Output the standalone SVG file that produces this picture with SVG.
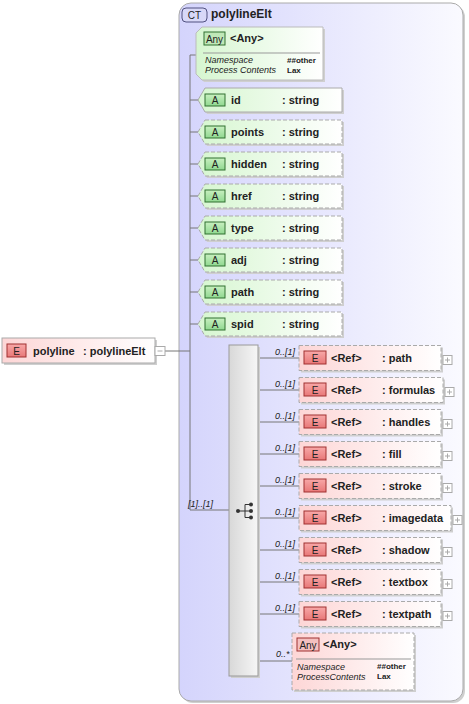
<svg xmlns="http://www.w3.org/2000/svg" width="469" height="704" viewBox="0 0 469 704">
<defs>
<linearGradient id="gCT" x1="0" y1="0" x2="1" y2="0"><stop offset="0" stop-color="#d4d4fc"/><stop offset="1" stop-color="#fafaff"/></linearGradient>
<linearGradient id="gA" x1="0" y1="0" x2="1" y2="0"><stop offset="0" stop-color="#d6f6d0"/><stop offset="1" stop-color="#ffffff"/></linearGradient>
<linearGradient id="gE" x1="0" y1="0" x2="1" y2="0"><stop offset="0" stop-color="#fdd6d6"/><stop offset="1" stop-color="#ffffff"/></linearGradient>
<linearGradient id="gEb" x1="0" y1="0" x2="0" y2="1"><stop offset="0" stop-color="#f8a8a8"/><stop offset="1" stop-color="#e87878"/></linearGradient>
<linearGradient id="gAb" x1="0" y1="0" x2="0" y2="1"><stop offset="0" stop-color="#c8f0c0"/><stop offset="1" stop-color="#90d890"/></linearGradient>
<linearGradient id="gSeq" x1="0" y1="0" x2="1" y2="0"><stop offset="0" stop-color="#d8d8d8"/><stop offset="1" stop-color="#f6f6f6"/></linearGradient>
</defs>
<style>
text{font-family:"Liberation Sans",Arial,sans-serif;fill:#222}
.b{font-weight:bold;font-size:11px}
.h{font-weight:bold;font-size:12px}
.occ{font-style:italic;font-size:9px}
.it{font-style:italic;font-size:9px}
.sm{font-weight:bold;font-size:8px}
.ln{stroke:#777;stroke-width:1;fill:none}
.sh{fill:#cfcfcf}
.attr{fill:url(#gA);stroke:#aaa;stroke-dasharray:4,2}
.attrs{fill:url(#gA);stroke:#aaa}
.el{fill:url(#gE);stroke:#aaa;stroke-dasharray:4,2}
.els{fill:url(#gE);stroke:#aaa}
.eb{fill:url(#gEb);stroke:#a03030}
.ab{fill:url(#gAb);stroke:#307030}
.pm{fill:#fff;stroke:#aaa}
.pml{stroke:#aaa}
</style>

<g id="ct">
<rect x="181" y="5" width="284" height="698" rx="12" class="sh"/>
<rect x="179" y="3" width="284" height="698" rx="12" fill="url(#gCT)" stroke="#aaa"/>
<rect x="182" y="8" width="25" height="14" rx="4" fill="#d8d8f8" stroke="#505080"/>
<text x="194.5" y="19" font-size="10" text-anchor="middle">CT</text>
<text x="211" y="18" class="h">polylineElt</text>
</g>

<g id="connectors">
<line x1="165" y1="351" x2="190" y2="351" class="ln"/>
<line x1="190" y1="55" x2="190" y2="510" class="ln"/>
<line x1="190" y1="55" x2="197" y2="55" class="ln"/>
<line x1="190" y1="100" x2="198" y2="100" class="ln"/>
<line x1="190" y1="132" x2="198" y2="132" class="ln"/>
<line x1="190" y1="164" x2="198" y2="164" class="ln"/>
<line x1="190" y1="196" x2="198" y2="196" class="ln"/>
<line x1="190" y1="228" x2="198" y2="228" class="ln"/>
<line x1="190" y1="260" x2="198" y2="260" class="ln"/>
<line x1="190" y1="292" x2="198" y2="292" class="ln"/>
<line x1="190" y1="324" x2="198" y2="324" class="ln"/>
<line x1="190" y1="510" x2="229" y2="510" class="ln"/>
<text x="188" y="507" class="occ">[1]..[1]</text>
<line x1="258" y1="358" x2="299" y2="358" class="ln"/>
<line x1="258" y1="390" x2="299" y2="390" class="ln"/>
<line x1="258" y1="422" x2="299" y2="422" class="ln"/>
<line x1="258" y1="454" x2="299" y2="454" class="ln"/>
<line x1="258" y1="486" x2="299" y2="486" class="ln"/>
<line x1="258" y1="518" x2="299" y2="518" class="ln"/>
<line x1="258" y1="550" x2="299" y2="550" class="ln"/>
<line x1="258" y1="582" x2="299" y2="582" class="ln"/>
<line x1="258" y1="614" x2="299" y2="614" class="ln"/>
<line x1="258" y1="661" x2="292" y2="661" class="ln"/>
<text x="275" y="355" class="occ">0..[1]</text>
<text x="275" y="387" class="occ">0..[1]</text>
<text x="275" y="419" class="occ">0..[1]</text>
<text x="275" y="451" class="occ">0..[1]</text>
<text x="275" y="483" class="occ">0..[1]</text>
<text x="275" y="515" class="occ">0..[1]</text>
<text x="275" y="547" class="occ">0..[1]</text>
<text x="275" y="579" class="occ">0..[1]</text>
<text x="275" y="611" class="occ">0..[1]</text>
<text x="276" y="657" class="occ">0..*</text>
</g>

<g id="polyline">
<rect x="4" y="340" width="153" height="25" class="sh"/>
<rect x="2" y="338" width="153" height="25" class="els"/>
<rect x="7" y="344" width="19" height="13" class="eb"/>
<text x="16.5" y="354.5" font-size="10" text-anchor="middle">E</text>
<text x="33" y="355" class="b">polyline</text>
<text x="83" y="355" class="b">: polylineElt</text>
<rect x="155" y="346.5" width="10" height="9" class="pm"/>
<line x1="157.5" y1="351" x2="162.5" y2="351" class="pml"/>
</g>

<g id="anyTop">
<polygon points="204,29 325,29 325,82 204,82 198,76 198,35" class="sh"/>
<polygon points="202,27 323,27 323,80 202,80 196,74 196,33" fill="url(#gA)" stroke="#bbb"/>
<rect x="204" y="32" width="21" height="13" fill="#c0e8b8" stroke="#307030"/>
<text x="214.5" y="42.5" font-size="10" text-anchor="middle">Any</text>
<text x="230" y="42" class="b">&lt;Any&gt;</text>
<line x1="203" y1="53" x2="320" y2="53" stroke="#999"/>
<text x="205" y="63" class="it">Namespace</text>
<text x="287" y="63" class="sm">##other</text>
<text x="205" y="73" class="it">Process Contents</text>
<text x="287" y="73" class="sm">Lax</text>
</g>

<g id="attr-id">
<polygon points="207,90 344,90 344,114 207,114 200,102" class="sh"/>
<polygon points="205,88 342,88 342,112 205,112 198,100" class="attrs"/>
<rect x="205" y="94" width="20" height="12" class="ab"/>
<text x="215" y="104" font-size="10" text-anchor="middle">A</text>
<text x="231" y="104" class="b">id</text>
<text x="282" y="104" class="b">: string</text>
</g>
<g id="attr-points">
<polygon points="207,122 344,122 344,146 207,146 200,134" class="sh"/>
<polygon points="205,120 342,120 342,144 205,144 198,132" class="attr"/>
<rect x="205" y="126" width="20" height="12" class="ab"/>
<text x="215" y="136" font-size="10" text-anchor="middle">A</text>
<text x="231" y="136" class="b">points</text>
<text x="282" y="136" class="b">: string</text>
</g>
<g id="attr-hidden">
<polygon points="207,154 344,154 344,178 207,178 200,166" class="sh"/>
<polygon points="205,152 342,152 342,176 205,176 198,164" class="attr"/>
<rect x="205" y="158" width="20" height="12" class="ab"/>
<text x="215" y="168" font-size="10" text-anchor="middle">A</text>
<text x="231" y="168" class="b">hidden</text>
<text x="282" y="168" class="b">: string</text>
</g>
<g id="attr-href">
<polygon points="207,186 344,186 344,210 207,210 200,198" class="sh"/>
<polygon points="205,184 342,184 342,208 205,208 198,196" class="attr"/>
<rect x="205" y="190" width="20" height="12" class="ab"/>
<text x="215" y="200" font-size="10" text-anchor="middle">A</text>
<text x="231" y="200" class="b">href</text>
<text x="282" y="200" class="b">: string</text>
</g>
<g id="attr-type">
<polygon points="207,218 344,218 344,242 207,242 200,230" class="sh"/>
<polygon points="205,216 342,216 342,240 205,240 198,228" class="attr"/>
<rect x="205" y="222" width="20" height="12" class="ab"/>
<text x="215" y="232" font-size="10" text-anchor="middle">A</text>
<text x="231" y="232" class="b">type</text>
<text x="282" y="232" class="b">: string</text>
</g>
<g id="attr-adj">
<polygon points="207,250 344,250 344,274 207,274 200,262" class="sh"/>
<polygon points="205,248 342,248 342,272 205,272 198,260" class="attr"/>
<rect x="205" y="254" width="20" height="12" class="ab"/>
<text x="215" y="264" font-size="10" text-anchor="middle">A</text>
<text x="231" y="264" class="b">adj</text>
<text x="282" y="264" class="b">: string</text>
</g>
<g id="attr-path">
<polygon points="207,282 344,282 344,306 207,306 200,294" class="sh"/>
<polygon points="205,280 342,280 342,304 205,304 198,292" class="attr"/>
<rect x="205" y="286" width="20" height="12" class="ab"/>
<text x="215" y="296" font-size="10" text-anchor="middle">A</text>
<text x="231" y="296" class="b">path</text>
<text x="282" y="296" class="b">: string</text>
</g>
<g id="attr-spid">
<polygon points="207,314 344,314 344,338 207,338 200,326" class="sh"/>
<polygon points="205,312 342,312 342,336 205,336 198,324" class="attr"/>
<rect x="205" y="318" width="20" height="12" class="ab"/>
<text x="215" y="328" font-size="10" text-anchor="middle">A</text>
<text x="231" y="328" class="b">spid</text>
<text x="282" y="328" class="b">: string</text>
</g>

<g id="sequence">
<rect x="231" y="347" width="29" height="331" class="sh"/>
<rect x="229" y="345" width="29" height="331" fill="url(#gSeq)" stroke="#999"/>
<line x1="238" y1="511" x2="245" y2="511" stroke="#333"/>
<line x1="245" y1="504.5" x2="245" y2="517.5" stroke="#333"/>
<line x1="245" y1="504.5" x2="251" y2="504.5" stroke="#333"/>
<line x1="245" y1="511" x2="251" y2="511" stroke="#333"/>
<line x1="245" y1="517.5" x2="251" y2="517.5" stroke="#333"/>
<circle cx="238" cy="511" r="2" fill="#333"/>
<circle cx="251" cy="504.5" r="2" fill="#333"/>
<circle cx="251" cy="511" r="2" fill="#333"/>
<circle cx="251" cy="517.5" r="2" fill="#333"/>
</g>

<g id="ref-path">
<rect x="301" y="347.5" width="142" height="25" class="sh"/>
<rect x="299" y="345.5" width="142" height="25" class="el"/>
<rect x="304" y="351" width="22" height="13" class="eb"/>
<text x="315" y="361.5" font-size="10" text-anchor="middle">E</text>
<text x="331" y="362" class="b">&lt;Ref&gt;</text>
<text x="382" y="362" class="b">: path</text>
<rect x="443" y="355.5" width="9" height="9" class="pm"/>
<path d="M445 360h5M447.5 357.5v5" class="pml"/>
</g>
<g id="ref-formulas">
<rect x="301" y="379.5" width="144" height="25" class="sh"/>
<rect x="299" y="377.5" width="144" height="25" class="el"/>
<rect x="304" y="383" width="22" height="13" class="eb"/>
<text x="315" y="393.5" font-size="10" text-anchor="middle">E</text>
<text x="331" y="394" class="b">&lt;Ref&gt;</text>
<text x="382" y="394" class="b">: formulas</text>
<rect x="445" y="387.5" width="9" height="9" class="pm"/>
<path d="M447 392h5M449.5 389.5v5" class="pml"/>
</g>
<g id="ref-handles">
<rect x="301" y="411.5" width="142" height="25" class="sh"/>
<rect x="299" y="409.5" width="142" height="25" class="el"/>
<rect x="304" y="415" width="22" height="13" class="eb"/>
<text x="315" y="425.5" font-size="10" text-anchor="middle">E</text>
<text x="331" y="426" class="b">&lt;Ref&gt;</text>
<text x="382" y="426" class="b">: handles</text>
<rect x="443" y="419.5" width="9" height="9" class="pm"/>
<path d="M445 424h5M447.5 421.5v5" class="pml"/>
</g>
<g id="ref-fill">
<rect x="301" y="443.5" width="142" height="25" class="sh"/>
<rect x="299" y="441.5" width="142" height="25" class="el"/>
<rect x="304" y="447" width="22" height="13" class="eb"/>
<text x="315" y="457.5" font-size="10" text-anchor="middle">E</text>
<text x="331" y="458" class="b">&lt;Ref&gt;</text>
<text x="382" y="458" class="b">: fill</text>
<rect x="443" y="451.5" width="9" height="9" class="pm"/>
<path d="M445 456h5M447.5 453.5v5" class="pml"/>
</g>
<g id="ref-stroke">
<rect x="301" y="475.5" width="142" height="25" class="sh"/>
<rect x="299" y="473.5" width="142" height="25" class="el"/>
<rect x="304" y="479" width="22" height="13" class="eb"/>
<text x="315" y="489.5" font-size="10" text-anchor="middle">E</text>
<text x="331" y="490" class="b">&lt;Ref&gt;</text>
<text x="382" y="490" class="b">: stroke</text>
<rect x="443" y="483.5" width="9" height="9" class="pm"/>
<path d="M445 488h5M447.5 485.5v5" class="pml"/>
</g>
<g id="ref-imagedata">
<rect x="301" y="507.5" width="152" height="25" class="sh"/>
<rect x="299" y="505.5" width="152" height="25" class="el"/>
<rect x="304" y="511" width="22" height="13" class="eb"/>
<text x="315" y="521.5" font-size="10" text-anchor="middle">E</text>
<text x="331" y="522" class="b">&lt;Ref&gt;</text>
<text x="382" y="522" class="b">: imagedata</text>
<rect x="453" y="515.5" width="9" height="9" class="pm"/>
<path d="M455 520h5M457.5 517.5v5" class="pml"/>
</g>
<g id="ref-shadow">
<rect x="301" y="539.5" width="142" height="25" class="sh"/>
<rect x="299" y="537.5" width="142" height="25" class="el"/>
<rect x="304" y="543" width="22" height="13" class="eb"/>
<text x="315" y="553.5" font-size="10" text-anchor="middle">E</text>
<text x="331" y="554" class="b">&lt;Ref&gt;</text>
<text x="382" y="554" class="b">: shadow</text>
<rect x="443" y="547.5" width="9" height="9" class="pm"/>
<path d="M445 552h5M447.5 549.5v5" class="pml"/>
</g>
<g id="ref-textbox">
<rect x="301" y="571.5" width="142" height="25" class="sh"/>
<rect x="299" y="569.5" width="142" height="25" class="el"/>
<rect x="304" y="575" width="22" height="13" class="eb"/>
<text x="315" y="585.5" font-size="10" text-anchor="middle">E</text>
<text x="331" y="586" class="b">&lt;Ref&gt;</text>
<text x="382" y="586" class="b">: textbox</text>
<rect x="443" y="579.5" width="9" height="9" class="pm"/>
<path d="M445 584h5M447.5 581.5v5" class="pml"/>
</g>
<g id="ref-textpath">
<rect x="301" y="603.5" width="142" height="25" class="sh"/>
<rect x="299" y="601.5" width="142" height="25" class="el"/>
<rect x="304" y="607" width="22" height="13" class="eb"/>
<text x="315" y="617.5" font-size="10" text-anchor="middle">E</text>
<text x="331" y="618" class="b">&lt;Ref&gt;</text>
<text x="382" y="618" class="b">: textpath</text>
<rect x="443" y="611.5" width="9" height="9" class="pm"/>
<path d="M445 616h5M447.5 613.5v5" class="pml"/>
</g>

<g id="anyBottom">
<rect x="294" y="635" width="122" height="57" class="sh"/>
<rect x="292" y="633" width="122" height="57" class="el"/>
<rect x="297" y="638" width="22" height="13" fill="#f4c0c0" stroke="#a03030"/>
<text x="308" y="648.5" font-size="10" text-anchor="middle">Any</text>
<text x="323" y="648" class="b">&lt;Any&gt;</text>
<line x1="296" y1="659" x2="411" y2="659" stroke="#999"/>
<text x="297" y="670" class="it">Namespace</text>
<text x="377" y="669" class="sm">##other</text>
<text x="297" y="680" class="it">ProcessContents</text>
<text x="377" y="679" class="sm">Lax</text>
</g>
</svg>
